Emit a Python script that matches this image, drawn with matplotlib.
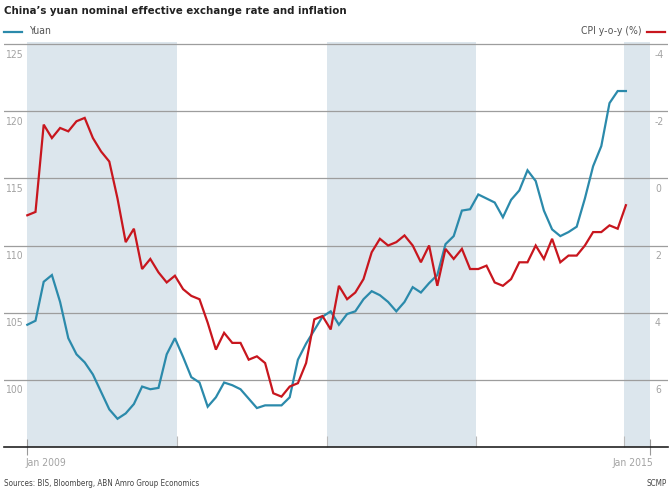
import matplotlib
matplotlib.use("Agg")
import matplotlib.pyplot as plt
from matplotlib.lines import Line2D
import matplotlib.transforms as mtransforms
import numpy as np

plt.rcParams['font.family'] = ['DejaVu Sans']
plt.rcParams['font.stretch'] = 'condensed'

# monthly data, Dec 2008 .. Jan 2015 (index 0 = Dec 2008)
yuan = [104.1, 104.4, 107.3, 107.8, 105.8, 103.1, 101.9, 101.3, 100.4, 99.1,
        97.8, 97.1, 97.5, 98.2, 99.5, 99.3, 99.4, 101.9, 103.1, 101.7,
        100.2, 99.8, 98.0, 98.7, 99.8, 99.6, 99.3, 98.6, 97.9, 98.1,
        98.1, 98.1, 98.7, 101.5, 102.7, 103.7, 104.7, 105.1, 104.1, 104.9,
        105.1, 106.0, 106.6, 106.3, 105.8, 105.1, 105.8, 106.9, 106.5, 107.2,
        107.8, 110.1, 110.7, 112.6, 112.7, 113.8, 113.5, 113.2, 112.1, 113.4,
        114.1, 115.6, 114.8, 112.6, 111.2, 110.7, 111.0, 111.4, 113.5, 115.9,
        117.4, 120.6, 121.5, 121.5]

cpi = [1.1, 1.0, -1.6, -1.2, -1.5, -1.4, -1.7, -1.8, -1.2, -0.8,
       -0.5, 0.6, 1.9, 1.5, 2.7, 2.4, 2.8, 3.1, 2.9, 3.3,
       3.5, 3.6, 4.3, 5.1, 4.6, 4.9, 4.9, 5.4, 5.3, 5.5,
       6.4, 6.5, 6.2, 6.1, 5.5, 4.2, 4.1, 4.5, 3.2, 3.6,
       3.4, 3.0, 2.2, 1.8, 2.0, 1.9, 1.7, 2.0, 2.5, 2.0,
       3.2, 2.1, 2.4, 2.1, 2.7, 2.7, 2.6, 3.1, 3.2, 3.0,
       2.5, 2.5, 2.0, 2.4, 1.8, 2.5, 2.3, 2.3, 2.0, 1.6,
       1.6, 1.4, 1.5, 0.8]

months = np.arange(len(yuan))

# alternating background bands (in months from Dec 2008)
bands = [(0, 18.25), (36.5, 54.75), (72.8, 75.9)]
band_edges = [18.25, 36.5, 54.75, 72.8]
end_ticks = [0, 75.9]
end_labels = ['Jan 2009', 'Jan 2015']

left_ticks = [100, 105, 110, 115, 120, 125]
right_ticks = [-4, -2, 0, 2, 4, 6]

BLUE = '#2b8aab'
RED = '#c8161e'
SHADE = '#dce6ed'
GRID = '#9d9d9d'
LABEL = '#a3a3a3'

W, H = 669, 492
fig = plt.figure(figsize=(W / 100, H / 100), dpi=100)

def fx(px):
    return px / W

def fy(py):
    return 1 - py / H

# axes: x from 4 to 668 px, y from 42 (top) to 447 (baseline)
ax = fig.add_axes([fx(4), fy(447), fx(664), (447 - 42) / H])
ppm = 8.2  # pixels per month
ax.set_xlim((4 - 27.3) / ppm, (668 - 27.3) / ppm)
ax.set_ylim(95, 125.15)

for a, b in bands:
    ax.axvspan(a, b, color=SHADE, lw=0, zorder=0)

ax.set_yticks(left_ticks)
ax.grid(axis='y', color=GRID, lw=0.9, zorder=1)
ax.tick_params(axis='y', length=0, labelleft=False)

ax.set_xticks(end_ticks)
ax.set_xticklabels([])
ax.tick_params(axis='x', direction='inout', length=12, color='#999999', width=0.8)
ax.set_xticks(band_edges, minor=True)
ax.tick_params(axis='x', which='minor', direction='in', length=8, color='#bbbbbb', width=0.8)

for s in ['top', 'left', 'right']:
    ax.spines[s].set_visible(False)
ax.spines['bottom'].set_color('#222222')
ax.spines['bottom'].set_linewidth(1.2)

ax.plot(months, yuan, color=BLUE, lw=1.6, zorder=3, solid_joinstyle='miter')

ax2 = ax.twinx()
ax2.set_ylim(8, (115 - 125.15) / 2.5)
ax2.plot(months, cpi, color=RED, lw=1.6, zorder=3, solid_joinstyle='miter')
ax2.set_yticks([])
for s in ax2.spines.values():
    s.set_visible(False)

# axis labels sit just below each gridline
off = mtransforms.ScaledTranslation(0, -10.5 / 100, fig.dpi_scale_trans)
tl = mtransforms.blended_transform_factory(fig.transFigure, ax.transData) + off
for v in left_ticks:
    ax.text(fx(5), v, str(v), transform=tl, ha='left', va='center',
            fontsize=7.5, color=LABEL)
tr = mtransforms.blended_transform_factory(fig.transFigure, ax2.transData) + off
for v in right_ticks:
    ax2.text(fx(655), v, str(v), transform=tr, ha='left', va='center',
             fontsize=7.5, color=LABEL)

fig.text(fx(26), fy(463), end_labels[0], ha='left', va='center', fontsize=7.5, color=LABEL)
fig.text(fx(653), fy(463), end_labels[1], ha='right', va='center', fontsize=7.5, color=LABEL)

# title and legend
fig.text(fx(4), fy(11), "China\u2019s yuan nominal effective exchange rate and inflation",
         ha='left', va='center', fontsize=8.2, fontweight='bold', color='#222222')
fig.add_artist(Line2D([fx(4), fx(22)], [fy(31.5), fy(31.5)], color=BLUE, lw=1.6))
fig.text(fx(29), fy(31.5), 'Yuan', ha='left', va='center', fontsize=7.5, color='#555555')
fig.add_artist(Line2D([fx(647), fx(665)], [fy(31.5), fy(31.5)], color=RED, lw=1.6))
fig.text(fx(642), fy(31.5), 'CPI y-o-y (%)', ha='right', va='center', fontsize=7.5, color='#555555')

fig.text(fx(4), fy(483), 'Sources: BIS, Bloomberg, ABN Amro Group Economics',
         ha='left', va='center', fontsize=5.8, color='#444444')
fig.text(fx(667), fy(483), 'SCMP', ha='right', va='center', fontsize=5.8, color='#444444')

fig.savefig('out.png', dpi=100)
